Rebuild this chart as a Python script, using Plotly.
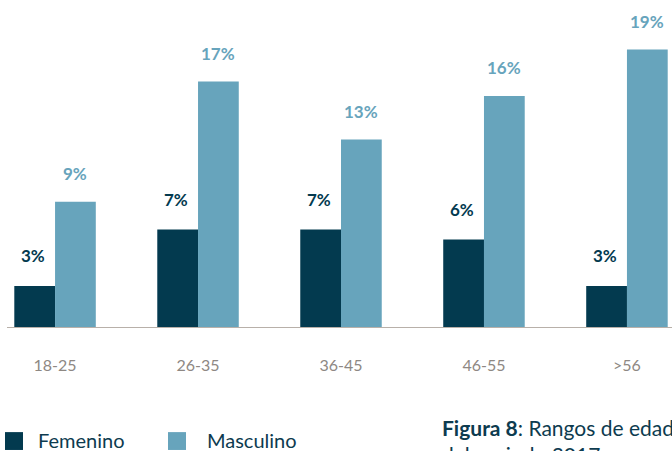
import plotly.graph_objects as go

# ── Data ──────────────────────────────────────────────────────────────────────
rangos = ["18-25", "26-35", "36-45", "46-55", ">56"]
femenino = [2.9, 6.8, 6.8, 6.1, 2.9]
masculino = [8.7, 17.0, 13.0, 16.0, 19.2]
fem_labels = ["3%", "7%", "7%", "6%", "3%"]
masc_labels = ["9%", "17%", "13%", "16%", "19%"]

C_FEM = "#033a4f"
C_MASC = "#67a4bc"
C_TICK = "#8e8883"
C_TEXT = "#0d3b4f"
FONT = "Lato, 'Open Sans', sans-serif"

fig = go.Figure()
fig.add_trace(go.Bar(name="Femenino", x=rangos, y=femenino,
                     marker_color=C_FEM, marker_line_width=0))
fig.add_trace(go.Bar(name="Masculino", x=rangos, y=masculino,
                     marker_color=C_MASC, marker_line_width=0))

# value labels above the bars
for i, r in enumerate(rangos):
    fig.add_annotation(x=r, y=femenino[i], text=f"<b>{fem_labels[i]}</b>",
                       xshift=-22, yshift=30, showarrow=False,
                       font=dict(family=FONT, size=17, color=C_FEM))
    fig.add_annotation(x=r, y=masculino[i], text=f"<b>{masc_labels[i]}</b>",
                       xshift=20, yshift=28, showarrow=False,
                       font=dict(family=FONT, size=17, color=C_MASC))

# baseline
fig.add_shape(type="line", xref="paper", yref="y", x0=7 / 672, x1=1, y0=0, y1=0,
              line=dict(color="#b8b0a9", width=2))

# legend (drawn by hand to match the layout)
fig.add_shape(type="rect", xref="paper", yref="paper",
              x0=5 / 672, x1=23 / 672, y0=-0.396, y1=-0.338,
              fillcolor=C_FEM, line_width=0)
fig.add_shape(type="rect", xref="paper", yref="paper",
              x0=168 / 672, x1=186 / 672, y0=-0.396, y1=-0.338,
              fillcolor=C_MASC, line_width=0)
fig.add_annotation(xref="paper", yref="paper", x=36 / 672, y=-0.365,
                   xanchor="left", yanchor="middle", text="Femenino", showarrow=False,
                   font=dict(family=FONT, size=20, color=C_TEXT))
fig.add_annotation(xref="paper", yref="paper", x=205 / 672, y=-0.365,
                   xanchor="left", yanchor="middle", text="Masculino", showarrow=False,
                   font=dict(family=FONT, size=20, color=C_TEXT))

# caption (cropped at the edge in the original)
fig.add_annotation(xref="paper", yref="paper", x=440 / 672, y=-0.275,
                   xanchor="left", yanchor="top", align="left",
                   text="<b>Figura 8</b>: Rangos de edad<br>del periodo 2017",
                   showarrow=False,
                   font=dict(family=FONT, size=21, color=C_TEXT))

fig.update_layout(
    width=672, height=451,
    barmode="group", bargap=0.43, bargroupgap=0,
    showlegend=False,
    paper_bgcolor="white", plot_bgcolor="white",
    margin=dict(l=0, r=0, t=20, b=123),
    xaxis=dict(range=[-0.385, 4.315], showgrid=False, showline=False,
               ticks="", tickfont=dict(family=FONT, size=16, color=C_TICK),
               ticklabelstandoff=26),
    yaxis=dict(range=[0, 21.24], visible=False),
)

fig.write_html("out.html", config=dict(displayModeBar=False),
               post_script="document.body.style.margin='0px';")
